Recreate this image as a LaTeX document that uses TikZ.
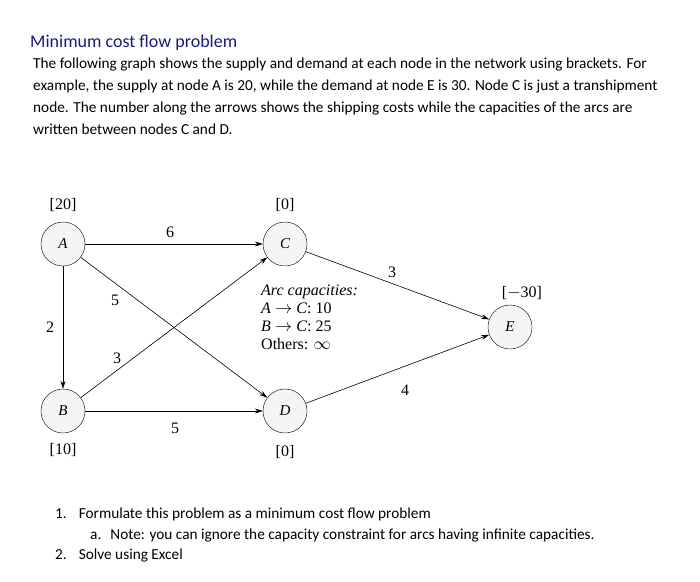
\documentclass[tikz,border=0pt]{standalone}
\usepackage{fontspec}
\setmainfont{Carlito}
\newfontfamily\tms{Liberation Serif}
\usetikzlibrary{arrows.meta}
\begin{document}
\begin{tikzpicture}[x=1pt,y=-1pt,
  nd/.style={circle,draw,fill=gray!8,minimum size=44pt,inner sep=0pt,font=\tms\fontsize{15}{17}\selectfont\itshape},
  lb/.style={font=\tms\fontsize{16}{17}\selectfont},
  ar/.style={draw,-{Stealth[length=8pt,width=5pt]},line width=0.6pt},
  tx/.style={font=\fontsize{15.3}{22}\selectfont,anchor=north west,inner sep=0pt,align=left}]
\useasboundingbox (0,0) rectangle (700,581);
\node[tx,text=blue!45!black!90,font=\fontsize{18}{20}\selectfont] (title) at (30,35) {Minimum cost flow problem};
\node[tx] (para) at (33,58) {The following graph shows the supply and demand at each node in the network using brackets. For\\example, the supply at node A is 20, while the demand at node E is 30. Node C is just a transhipment\\node. The number along the arrows shows the shipping costs while the capacities of the arcs are\\written between nodes C and D.};
\node[nd] (A) at (63,244) {A};
\node[nd] (C) at (285,244) {C};
\node[nd] (B) at (63,411) {B};
\node[nd] (D) at (285,411) {D};
\node[nd] (E) at (510,327) {E};
\node[lb] (sA) at (63,205) {[20]};
\node[lb] (sC) at (285,205) {[0]};
\node[lb] (sB) at (63,450) {[10]};
\node[lb] (sD) at (285,452) {[0]};
\node[lb] (sE) at (522,293) {[$-$30]};
\draw[ar] (A) -- (C);
\draw[ar] (A) -- (B);
\draw[ar] (A) -- (D);
\draw[ar] (B) -- (C);
\draw[ar] (B) -- (D);
\draw[ar] (C) -- (E);
\draw[ar] (D) -- (E);
\node[lb] (l1) at (170,232) {6};
\node[lb] (l2) at (50,327) {2};
\node[lb] (l3) at (115,300) {5};
\node[lb] (l4) at (117,358) {3};
\node[lb] (l5) at (175,428) {5};
\node[lb] (l6) at (392,272) {3};
\node[lb] (l7) at (405,390) {4};
\node[anchor=north west,align=left,inner sep=0pt,font=\tms\fontsize{16}{18}\selectfont] (cap) at (261,285) {\textit{Arc capacities:}\\\textit{A} $\rightarrow$ \textit{C}: 10\\\textit{B} $\rightarrow$ \textit{C}: 25\\Others: $\infty$};
\node[tx] (q1) at (55,508) {1.\hspace{12pt}Formulate this problem as a minimum cost flow problem};
\node[tx] (q1a) at (90,529) {a.\hspace{9pt}Note: you can ignore the capacity constraint for arcs having infinite capacities.};
\node[tx] (q2) at (55,549) {2.\hspace{12pt}Solve using Excel};
\end{tikzpicture}
\end{document}
